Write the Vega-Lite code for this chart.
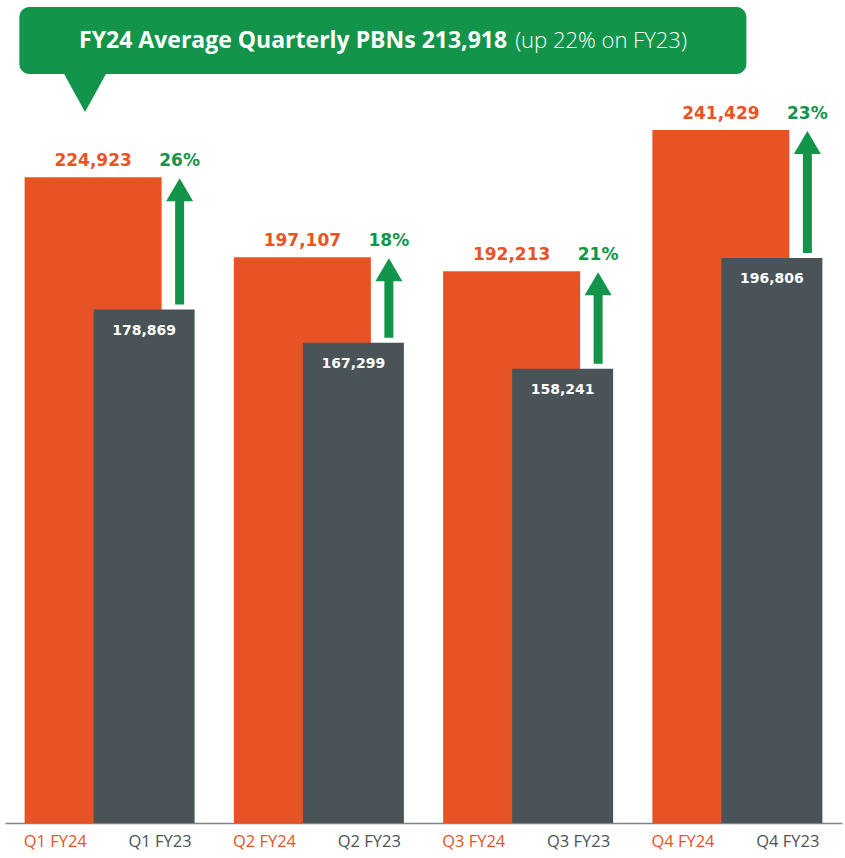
{
  "$schema": "https://vega.github.io/schema/vega-lite/v6.json",
  "autosize": {"type": "none"},
  "width": 837,
  "height": 823,
  "padding": {"left": 5, "top": 0, "right": 3, "bottom": 35},
  "background": "white",
  "config": {"view": {"stroke": null}},
  "datasets": {
    "q": [
      {"q": "Q1", "fy24": 224923, "fy23": 178869, "pct": "26%", "l24": "Q1 FY24", "l23": "Q1 FY23"},
      {"q": "Q2", "fy24": 197107, "fy23": 167299, "pct": "18%", "l24": "Q2 FY24", "l23": "Q2 FY23"},
      {"q": "Q3", "fy24": 192213, "fy23": 158241, "pct": "21%", "l24": "Q3 FY24", "l23": "Q3 FY23"},
      {"q": "Q4", "fy24": 241429, "fy23": 196806, "pct": "23%", "l24": "Q4 FY24", "l23": "Q4 FY23"}
    ],
    "t": [
      {"bold": "FY24 Average Quarterly PBNs 213,918", "reg": "(up 22% on FY23)"}
    ]
  },
  "layer": [
    {
      "data": {"name": "q"},
      "mark": {"type": "bar", "color": "#e85326", "width": 137, "xOffset": -16.5},
      "encoding": {
        "x": {"field": "q", "type": "nominal", "scale": {"domain": ["Q1", "Q2", "Q3", "Q4"], "paddingInner": 0, "paddingOuter": 0}, "axis": {"labels": false, "ticks": false, "title": null, "domainColor": "#7d8589", "domainWidth": 1.5}},
        "y": {"field": "fy24", "type": "quantitative", "scale": {"domain": [0, 286700], "nice": false, "zero": true}, "axis": null}
      }
    },
    {
      "data": {"name": "q"},
      "mark": {"type": "bar", "color": "#4a5358", "width": 101, "xOffset": 34.5},
      "encoding": {
        "x": {"field": "q", "type": "nominal"},
        "y": {"field": "fy23", "type": "quantitative"}
      }
    },
    {
      "data": {"name": "q"},
      "mark": {"type": "rule", "color": "#12954a", "strokeWidth": 9, "xOffset": 70, "yOffset": -5, "y2Offset": 23},
      "encoding": {
        "x": {"field": "q", "type": "nominal"},
        "y": {"field": "fy23", "type": "quantitative"},
        "y2": {"field": "fy24"}
      }
    },
    {
      "data": {"name": "q"},
      "mark": {"type": "point", "shape": "M0,-0.85L1,0.85L-1,0.85Z", "size": 729, "filled": true, "opacity": 1, "color": "#12954a", "xOffset": 70, "yOffset": 12.5},
      "encoding": {
        "x": {"field": "q", "type": "nominal"},
        "y": {"field": "fy24", "type": "quantitative"}
      }
    },
    {
      "data": {"name": "q"},
      "mark": {"type": "text", "font": "DejaVu Sans", "fontWeight": "bold", "fontSize": 17, "color": "#e85326", "xOffset": -16.5, "dy": -11, "baseline": "alphabetic"},
      "encoding": {
        "x": {"field": "q", "type": "nominal"},
        "y": {"field": "fy24", "type": "quantitative"},
        "text": {"field": "fy24", "type": "quantitative", "format": ","}
      }
    },
    {
      "data": {"name": "q"},
      "mark": {"type": "text", "font": "DejaVu Sans", "fontWeight": "bold", "fontSize": 17, "color": "#12954a", "xOffset": 70, "dy": -11, "baseline": "alphabetic"},
      "encoding": {
        "x": {"field": "q", "type": "nominal"},
        "y": {"field": "fy24", "type": "quantitative"},
        "text": {"field": "pct", "type": "nominal"}
      }
    },
    {
      "data": {"name": "q"},
      "mark": {"type": "text", "font": "DejaVu Sans", "fontWeight": "bold", "fontSize": 14, "color": "#ffffff", "xOffset": 34.5, "dy": 25, "baseline": "alphabetic"},
      "encoding": {
        "x": {"field": "q", "type": "nominal"},
        "y": {"field": "fy23", "type": "quantitative"},
        "text": {"field": "fy23", "type": "quantitative", "format": ","}
      }
    },
    {
      "data": {"name": "q"},
      "mark": {"type": "text", "font": "Open Sans", "fontWeight": 400, "fontSize": 16.5, "color": "#e85326", "xOffset": -86, "dy": 24, "align": "left", "baseline": "alphabetic"},
      "encoding": {
        "x": {"field": "q", "type": "nominal"},
        "y": {"datum": 0, "type": "quantitative"},
        "text": {"field": "l24", "type": "nominal"}
      }
    },
    {
      "data": {"name": "q"},
      "mark": {"type": "text", "font": "Open Sans", "fontWeight": 400, "fontSize": 16.5, "color": "#4a5358", "xOffset": 82, "dy": 24, "align": "right", "baseline": "alphabetic"},
      "encoding": {
        "x": {"field": "q", "type": "nominal"},
        "y": {"datum": 0, "type": "quantitative"},
        "text": {"field": "l23", "type": "nominal"}
      }
    },
    {
      "data": {"name": "t"},
      "mark": {"type": "bar", "color": "#12954a", "width": 727, "xOffset": 64, "cornerRadius": 10},
      "encoding": {
        "x": {"datum": "Q2", "type": "nominal"},
        "y": {"datum": 284260, "type": "quantitative"},
        "y2": {"datum": 260920}
      }
    },
    {
      "data": {"name": "t"},
      "mark": {"type": "point", "shape": "M-1,-0.95L1,-0.95L0,0.864Z", "size": 1936, "filled": true, "opacity": 1, "color": "#12954a", "xOffset": -24.6},
      "encoding": {
        "x": {"datum": "Q1", "type": "nominal"},
        "y": {"datum": 254300, "type": "quantitative"}
      }
    },
    {
      "data": {"name": "t"},
      "mark": {"type": "text", "font": "Open Sans", "fontWeight": "bold", "fontSize": 23, "color": "#ffffff", "xOffset": -21, "align": "right", "baseline": "alphabetic"},
      "encoding": {
        "x": {"datum": "Q3", "type": "nominal"},
        "y": {"datum": 269980, "type": "quantitative"},
        "text": {"field": "bold", "type": "nominal"}
      }
    },
    {
      "data": {"name": "t"},
      "mark": {"type": "text", "font": "Open Sans", "fontWeight": 300, "fontSize": 22, "color": "#ffffff", "xOffset": -13, "align": "left", "baseline": "alphabetic"},
      "encoding": {
        "x": {"datum": "Q3", "type": "nominal"},
        "y": {"datum": 269980, "type": "quantitative"},
        "text": {"field": "reg", "type": "nominal"}
      }
    }
  ]
}
